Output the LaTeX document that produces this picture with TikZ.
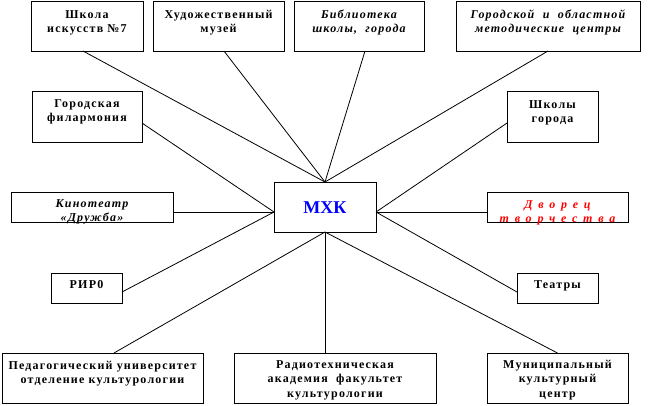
\documentclass[tikz,border=0pt]{standalone}
\usepackage{fontspec}
\setmainfont{Liberation Serif}[LetterSpace=10]
\newfontfamily\dvfont{Liberation Serif}[LetterSpace=48]
\newfontfamily\plainf{Liberation Serif}
\usetikzlibrary{calc}
\definecolor{mxkblue}{RGB}{0,0,255}
\definecolor{dvred}{RGB}{255,0,0}
\newcommand\bodyf{\fontsize{9}{11}\selectfont\bfseries}
\newcommand\bodyi{\fontsize{9}{11}\selectfont\bfseries\itshape}
\newcommand\bx[8]{%
  \node[boxst] (#1) at ({(#2+#4)/2},{(#3+#5)/2})
  {\parbox[c][\dimexpr(#5pt-#3pt)*3/4\relax][t]{\dimexpr(#4pt-#2pt)*3/4\relax}{\centering#7\rule{0pt}{\dimexpr #6pt*3/4\relax}#8}};}
\begin{document}
\begin{tikzpicture}[x=0.75pt,y=-0.75pt,
  boxst/.style={draw, line width=0.75pt, inner sep=0pt, outer sep=0pt},
  conn/.style={line width=0.6pt}]
\useasboundingbox (0,0) rectangle (650,405);
\fill[white] (0,0) rectangle (650,405);
\bx{s1}{31}{1}{143}{51}{17}{\bodyf}{Школа\\искусств №7}
\bx{h1}{153}{1}{284}{51}{17}{\bodyf}{Художественный\\музей}
\bx{bib}{294}{1}{424}{51}{17}{\bodyi}{Библиотека\\школы,\ \ города}
\bx{gor}{456}{1}{640}{51}{17}{\bodyi}{Городской\ \ и\ \ областной\\методические\ \ центры}
\bx{fil}{32}{91}{142}{142}{16}{\bodyf}{Городская\\филармония}
\bx{shk}{507}{91}{598}{142}{17}{\bodyf}{Школы\\города}
\bx{kino}{11}{192}{173}{222}{15}{\bodyi}{Кинотеатр\\«Дружба»}
\bx{mxk}{274}{182}{376}{232}{31}{\plainf\fontsize{13.5}{15}\selectfont\bfseries\color{mxkblue}}{МХК}
\bx{dvor}{487}{192}{628}{222}{16}{\dvfont\fontsize{9}{11}\selectfont\bfseries\itshape\color{dvred}}{Дворец\\творчества}
\bx{rir}{51}{273}{122}{303}{15}{\bodyf}{РИР0}
\bx{teat}{517}{273}{598}{303}{15}{\bodyf}{Театры}
\bx{ped}{2}{353}{203}{403}{16}{\bodyf}{Педагогический университет\\отделение культурологии}
\bx{rad}{234}{353}{436}{403}{15}{\bodyf}{Радиотехническая\\академия\ \ факультет\\культурологии}
\bx{mun}{487}{353}{628}{403}{15}{\bodyf}{Муниципальный\\культурный\\центр}
\coordinate (L) at ([yshift=-3.75pt]mxk.west);
\coordinate (R) at ([yshift=-3.75pt]mxk.east);
\draw[conn] ([xshift=-3pt]s1.south) -- (mxk.north);
\draw[conn] ([xshift=4.1pt]h1.south) -- (mxk.north);
\draw[conn] ([xshift=4.5pt]bib.south) -- (mxk.north);
\draw[conn] (gor.south) -- (mxk.north);
\draw[conn] ([yshift=-4.9pt]fil.east) -- (L);
\draw[conn] ([yshift=-4.9pt]shk.west) -- (R);
\draw[conn] ([yshift=-3.75pt]kino.east) -- (L);
\draw[conn] ([yshift=-3.75pt]dvor.west) -- (R);
\draw[conn] ([yshift=-3pt]rir.east) -- (L);
\draw[conn] ([yshift=-3pt]teat.west) -- (R);
\draw[conn] ([xshift=8.6pt]ped.north) -- (mxk.south);
\draw[conn] ([xshift=-7.5pt]rad.north) -- (mxk.south);
\draw[conn] (mun.north) -- (mxk.south);
\end{tikzpicture}
\end{document}
